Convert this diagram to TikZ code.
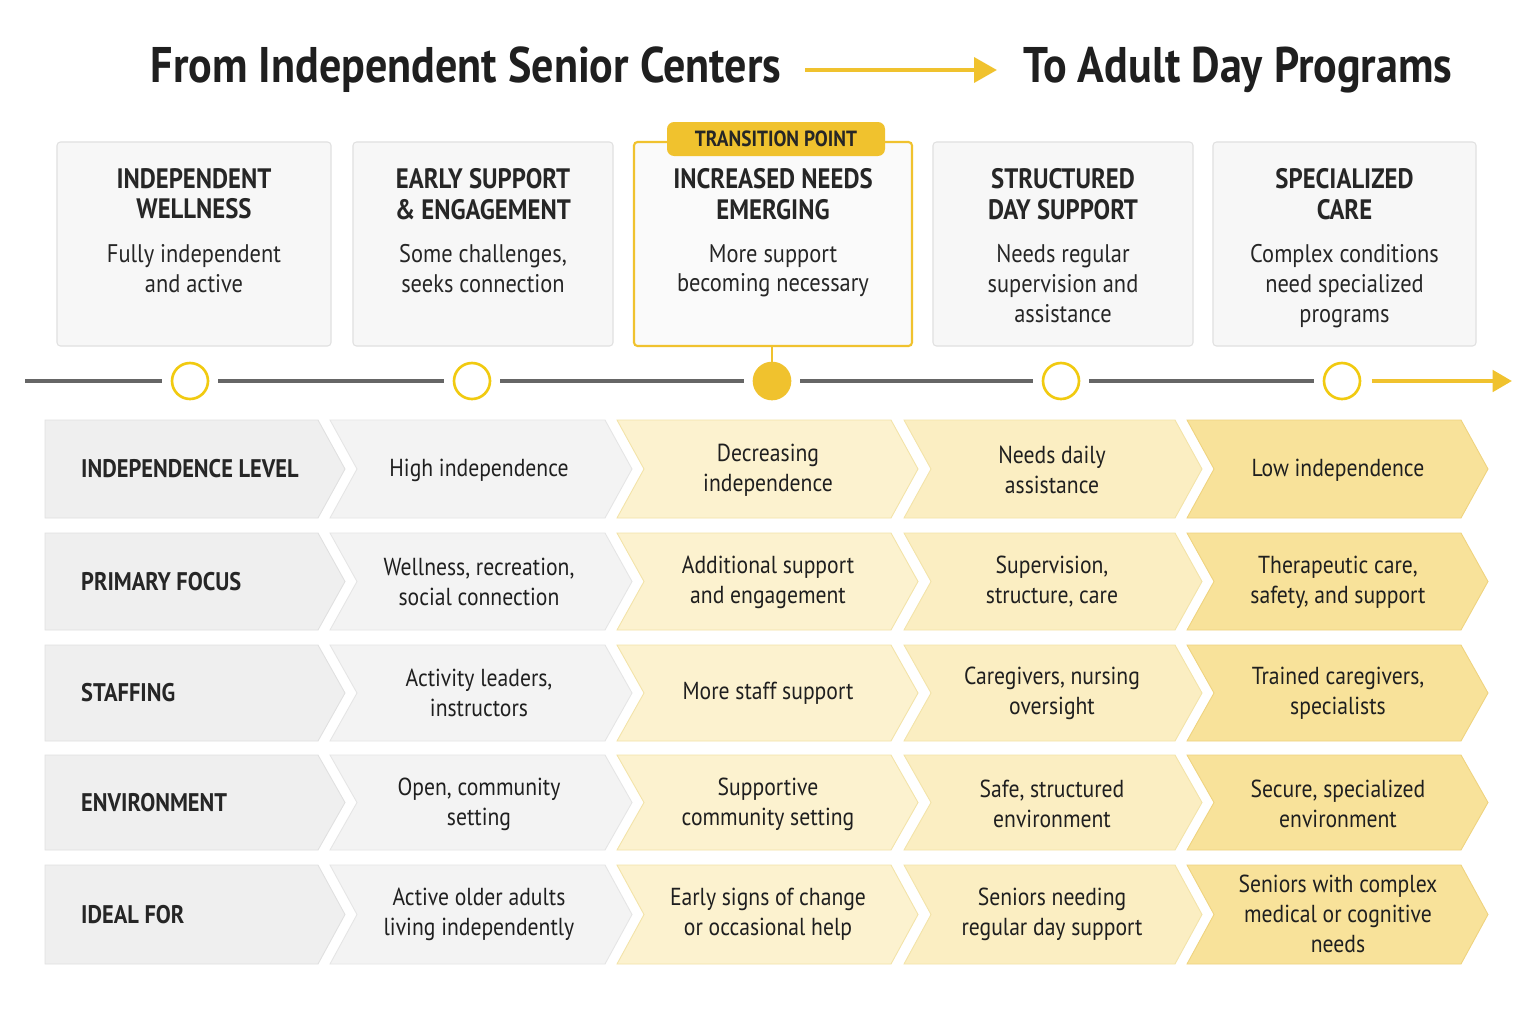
\documentclass[tikz,border=0pt]{standalone}
\usepackage{fontspec}
\setmainfont[FakeStretch=0.88]{PT Sans}
\usetikzlibrary{arrows.meta}
\begin{document}
\begin{tikzpicture}[x=0.02cm,y=-0.02cm,
 card/.style={draw=black!12,fill=black!3,rounded corners=2pt,line width=0.6pt},
 ctitle/.style={font=\fontsize{16}{17.5}\selectfont\bfseries,align=center,text=black!85},
 cdesc/.style={font=\fontsize{14.5}{17}\selectfont,align=center,text=black!85},
 ring/.style={circle,draw=yellow!70!orange!95!black,line width=1.5pt,fill=white,minimum size=36*0.02cm,inner sep=0pt},
 cell/.style={font=\fontsize{14}{17}\selectfont,align=center,text=black!88},
 rlab/.style={font=\fontsize{14.5}{17}\selectfont\bfseries,anchor=west,text=black!85}]
\definecolor{gold}{HTML}{F0C22E}
\definecolor{c1}{HTML}{EFEFEF}\definecolor{c2}{HTML}{F3F3F3}
\definecolor{c3}{HTML}{FCF2CF}\definecolor{c4}{HTML}{FBEEC2}\definecolor{c5}{HTML}{F8E29A}
\definecolor{b3}{HTML}{F3E3A8}\definecolor{b5}{HTML}{EFD37E}
\useasboundingbox (0,0) rectangle (1536,1011);
\fill[white] (0,0) rectangle (1536,1011);
% title
\node[font=\fontsize{28.5}{30}\selectfont\bfseries,text=black!88] (t1) at (466,70) {From Independent Senior Centers};
\node[font=\fontsize{28.5}{30}\selectfont\bfseries,text=black!88] (t2) at (1238,70) {To Adult Day Programs};
\coordinate (a1) at (805,70); \coordinate (a2) at (997,70);
\draw[gold,line width=2.5pt,-{Triangle[length=13pt,width=14pt]}] (a1) -- (a2);
% cards
\foreach \xa/\xb/\n/\ti/\de in {57/331/k1/{INDEPENDENT\\WELLNESS}/{Fully independent\\and active},
  353/613/k2/{EARLY SUPPORT\\\& ENGAGEMENT}/{Some challenges,\\seeks connection},
  933/1193/k4/{STRUCTURED\\DAY SUPPORT}/{Needs regular\\supervision and\\assistance},
  1213/1476/k5/{SPECIALIZED\\CARE}/{Complex conditions\\need specialized\\programs}}{
  \draw[card] (\xa,142) rectangle (\xb,346);
  \node[ctitle,anchor=north] (\n t) at ({(\xa+\xb)/2},162) {\ti};
  \node[cdesc,anchor=north] (\n d) at ({(\xa+\xb)/2},238) {\de};
}
\draw[card,draw=gold,line width=1.2pt,fill=black!2] (634,142) rectangle (912,346);
\node[ctitle,anchor=north] (k3t) at (773,162) {INCREASED NEEDS\\EMERGING};
\node[cdesc,anchor=north] (k3d) at (773,238) {More support\\becoming necessary};
\node[fill=gold,rounded corners=4pt,minimum width=218*0.02cm,minimum height=34*0.02cm,font=\fontsize{12.5}{14}\selectfont\bfseries,text=black!85] (tp) at (776,139) {TRANSITION POINT};
% timeline
\node[ring] (r1) at (190,381) {};
\node[ring] (r2) at (472,381) {};
\node[ring,fill=gold,draw=gold] (r3) at (772,381) {};
\node[ring] (r4) at (1061,381) {};
\node[ring] (r5) at (1342,381) {};
\coordinate (l0) at (25,381); \coordinate (le) at (1512,381);
\coordinate (k3b) at (772,346);
\draw[gold,line width=1pt] (k3b) -- (r3);
\begin{scope}[line width=2.5pt,shorten <=5pt,shorten >=5pt]
\draw[black!60,shorten <=0pt] (l0) -- (r1);
\draw[black!60] (r1) -- (r2); \draw[black!60] (r2) -- (r3); \draw[black!60] (r3) -- (r4); \draw[black!60] (r4) -- (r5);
\end{scope}
\draw[gold,line width=2.5pt,shorten <=6pt,-{Triangle[length=11pt,width=12pt]}] (r5) -- (le);
% rows
\foreach \ya/\yb/\lab [count=\r] in {420/518/INDEPENDENCE LEVEL,533/630/PRIMARY FOCUS,645/741/STAFFING,755/850/ENVIRONMENT,865/964/IDEAL FOR}{
  \pgfmathsetmacro\ym{(\ya+\yb)/2}
  \draw[fill=c1,draw=black!12,line width=0.5pt] (45,\ya) -- (318,\ya) -- (345,\ym) -- (318,\yb) -- (45,\yb) -- cycle;
  \node[rlab] (lab\r) at (75,\ym) {\lab};
  \draw[fill=c2,draw=black!10,line width=0.5pt] (330,\ya) -- (605,\ya) -- (632,\ym) -- (605,\yb) -- (330,\yb) -- (357,\ym) -- cycle;
  \draw[fill=c3,draw=b3,line width=0.5pt] (617,\ya) -- (891,\ya) -- (918,\ym) -- (891,\yb) -- (617,\yb) -- (644,\ym) -- cycle;
  \draw[fill=c4,draw=b3,line width=0.5pt] (904,\ya) -- (1175,\ya) -- (1202,\ym) -- (1175,\yb) -- (904,\yb) -- (931,\ym) -- cycle;
  \draw[fill=c5,draw=b5,line width=0.5pt] (1187,\ya) -- (1461,\ya) -- (1488,\ym) -- (1461,\yb) -- (1187,\yb) -- (1214,\ym) -- cycle;
}
\foreach \ym/\r/\a/\b/\c/\e in {
 470/1/{High independence}/{Decreasing\\independence}/{Needs daily\\assistance}/{Low independence},
 582/2/{Wellness, recreation,\\social connection}/{Additional support\\and engagement}/{Supervision,\\structure, care}/{Therapeutic care,\\safety, and support},
 693/3/{Activity leaders,\\instructors}/{More staff support}/{Caregivers, nursing\\oversight}/{Trained caregivers,\\specialists},
 804/4/{Open, community\\setting}/{Supportive\\community setting}/{Safe, structured\\environment}/{Secure, specialized\\environment},
 914/5/{Active older adults\\living independently}/{Early signs of change\\or occasional help}/{Seniors needing\\regular day support}/{Seniors with complex\\medical or cognitive\\needs}}{
 \node[cell] (c\r a) at (479,\ym) {\a};
 \node[cell] (c\r b) at (768,\ym) {\b};
 \node[cell] (c\r c) at (1052,\ym) {\c};
 \node[cell] (c\r e) at (1338,\ym) {\e};
}
\end{tikzpicture}
\end{document}
